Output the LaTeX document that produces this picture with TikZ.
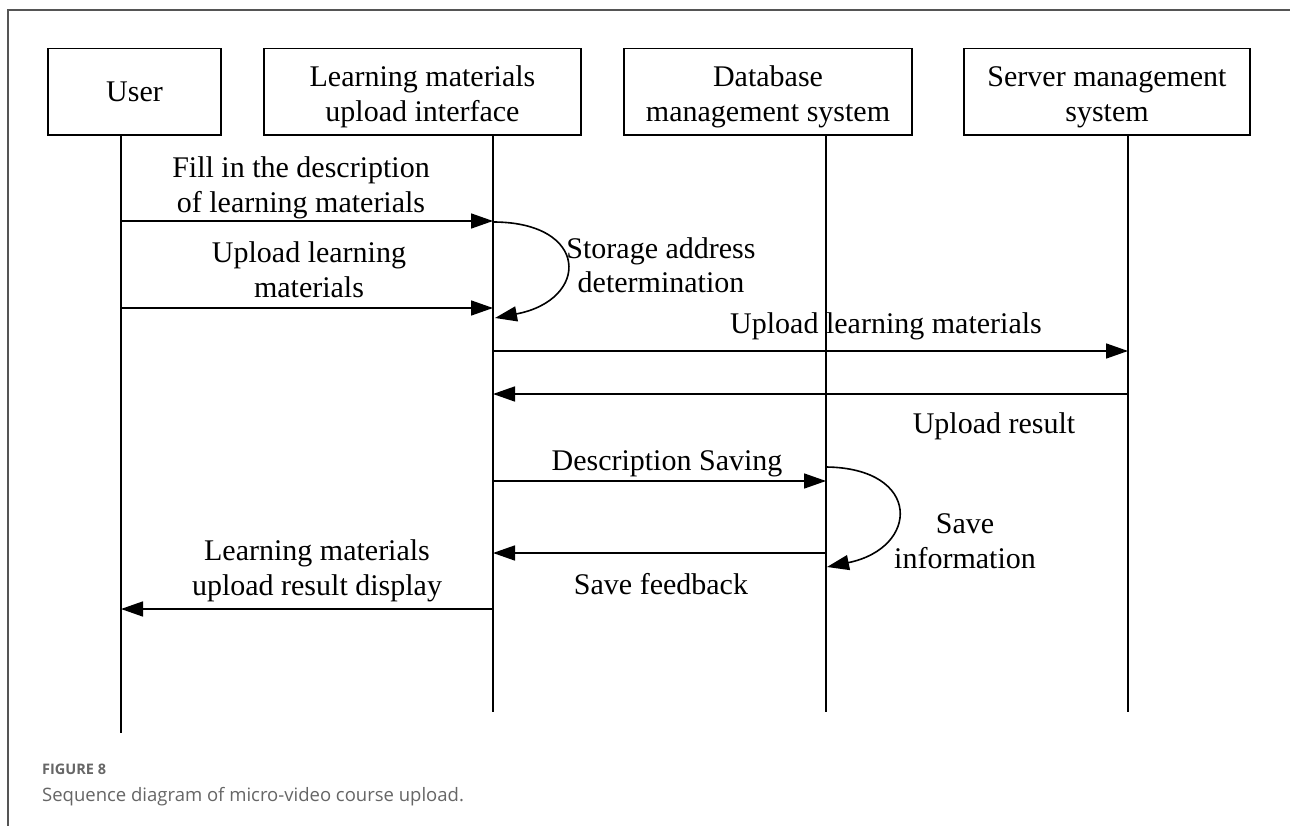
\documentclass[tikz,border=0pt]{standalone}
\usepackage{fontspec}
\setmainfont{Liberation Serif}
\newfontfamily\capfont{Open Sans}
\usetikzlibrary{arrows.meta}
\definecolor{framegray}{HTML}{555555}
\definecolor{capgray}{HTML}{666666}
\tikzset{
  lbl/.style={font=\fontsize{30}{35}\selectfont, align=center, inner sep=0pt},
  actor/.style={draw, line width=1.6pt, inner sep=0pt, font=\fontsize{30}{35}\selectfont, align=center, minimum height=86.5pt},
  actortwo/.style={actor, text height=66pt, text depth=6pt},
  life/.style={line width=1.6pt},
  msg/.style={line width=1.6pt, -{Triangle[length=22pt,width=15pt]}},
}
\begin{document}
\begin{tikzpicture}[x=1pt,y=-1pt]
\useasboundingbox (0,0) rectangle (1290,826);
\fill[white] (0,0) rectangle (1290,826);
% frame
\draw[framegray, line width=1.3pt] (8,828) -- (8,10) -- (1292,10);
% actors
\node[actor, minimum width=173pt] (user) at (134.5,91.75) {User};
\node[actortwo, minimum width=317pt] (lmi) at (422.5,91.75) {Learning materials\\upload interface};
\node[actortwo, minimum width=288pt] (dbms) at (768,91.75) {Database\\management system};
\node[actortwo, minimum width=286pt] (sms) at (1107,91.75) {Server management\\system};
% lifeline ends
\coordinate (uT) at (121,135); \coordinate (uB) at (121,733);
\coordinate (lT) at (493,135); \coordinate (lB) at (493,712);
\coordinate (dT) at (826,135); \coordinate (dB) at (826,712);
\coordinate (sT) at (1128,135); \coordinate (sB) at (1128,712);
\draw[life] (uT) -- (uB);
\draw[life] (lT) -- (lB);
\draw[life] (dT) -- (dB);
\draw[life] (sT) -- (sB);
% message points
\coordinate (m1a) at (121,221); \coordinate (m1b) at (493,221);
\coordinate (m2a) at (121,308); \coordinate (m2b) at (493,308);
\coordinate (s1a) at (493,222); \coordinate (s1b) at (495,318);
\coordinate (m3a) at (493,351); \coordinate (m3b) at (1128,351);
\coordinate (m4a) at (1128,394); \coordinate (m4b) at (493,394);
\coordinate (m5a) at (493,481); \coordinate (m5b) at (826,481);
\coordinate (s2a) at (826,467); \coordinate (s2b) at (827,567);
\coordinate (m6a) at (826,553); \coordinate (m6b) at (493,553);
\coordinate (m7a) at (493,609); \coordinate (m7b) at (121,609);
\draw[msg] (m1a) -- (m1b);
\draw[msg] (m2a) -- (m2b);
\draw[msg] (s1a) .. controls (590,222) and (590,300) .. (s1b);
\draw[msg] (m3a) -- (m3b);
\draw[msg] (m4a) -- (m4b);
\draw[msg] (m5a) -- (m5b);
\draw[msg] (s2a) .. controls (922,468) and (920,548) .. (s2b);
\draw[msg] (m6a) -- (m6b);
\draw[msg] (m7a) -- (m7b);
% labels (base = baseline of the last line)
\node[lbl, anchor=base] (t1) at (301,213) {Fill in the description\\of learning materials};
\node[lbl, anchor=base] (t2) at (309,298) {Upload learning\\materials};
\node[lbl, anchor=base] (t3) at (661,293) {Storage address\\determination};
\node[lbl, anchor=base] (t4) at (886,333) {Upload learning materials};
\node[lbl, anchor=base] (t5) at (994,433) {Upload result};
\node[lbl, anchor=base] (t6) at (667,470) {Description Saving};
\node[lbl, anchor=base] (t7) at (965,568) {Save\\information};
\node[lbl, anchor=base] (t8) at (661,594) {Save feedback};
\node[lbl, anchor=base] (t9) at (317,595) {Learning materials\\upload result display};
% caption
\node[anchor=base west, inner sep=0pt, text=capgray, font=\capfont\bfseries\fontsize{14.5}{17}\selectfont] (cap1) at (42,774) {FIGURE 8};
\node[anchor=base west, inner sep=0pt, text=capgray, font=\capfont\fontsize{18.5}{22}\selectfont] (cap2) at (42,801) {Sequence diagram of micro-video course upload.};
\end{tikzpicture}
\end{document}
